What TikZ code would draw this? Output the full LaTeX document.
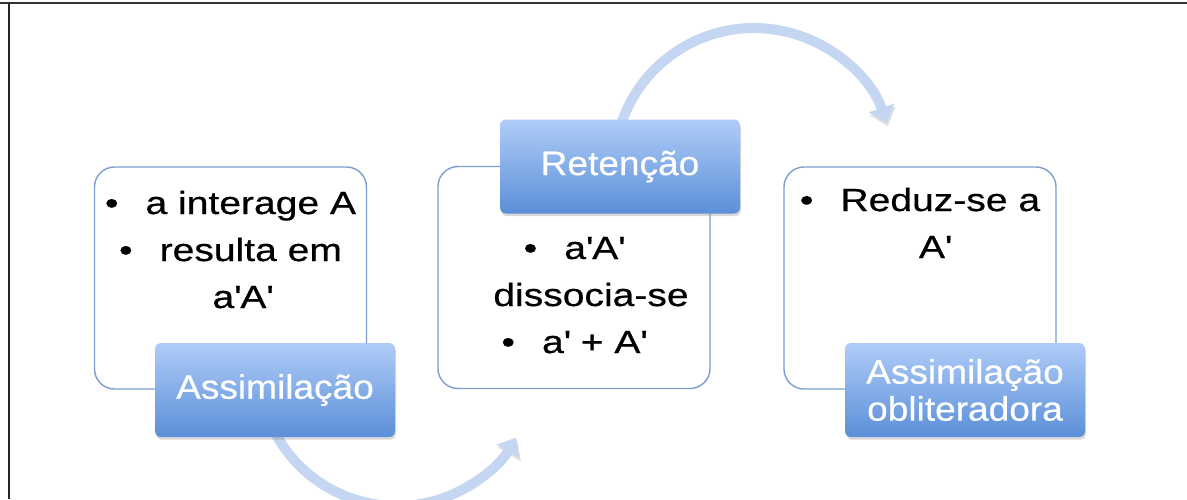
\documentclass[tikz,border=0pt]{standalone}
\usepackage{fontspec}
\setmainfont{Liberation Sans}
\newfontfamily\bodyfont[FakeStretch=1.22,FakeBold=0.6]{Liberation Sans}
\newfontfamily\tagfont[FakeStretch=1.09,FakeBold=0.4]{Liberation Sans}
\usetikzlibrary{arrows.meta,shadows}
\definecolor{cardedge}{HTML}{7B9ED0}
\definecolor{tagtop}{HTML}{AFCCF8}
\definecolor{tagbottom}{HTML}{5B8FD8}
\definecolor{arcblue}{HTML}{C4D6F1}
\newcommand{\ap}{\textquotesingle}
\newcommand{\bul}{\textbullet\hspace{13.5pt}}

\begin{document}
\begin{tikzpicture}[x=0.5pt,y=-0.5pt,
  card/.style={draw=cardedge, line width=0.7pt, fill=white, rounded corners=10pt,
    minimum width=136pt, minimum height=111pt, inner sep=0pt},
  tag/.style={rounded corners=3pt, top color=tagtop, bottom color=tagbottom,
    text=white, font=\tagfont\fontsize{17}{18.5}\selectfont, align=center,
    minimum width=120pt, minimum height=47pt, inner sep=0pt,
    drop shadow={shadow xshift=0.5pt, shadow yshift=-1.3pt, opacity=0.3}},
  bullets/.style={font=\bodyfont\fontsize{16}{23.5}\selectfont, align=center,
    anchor=base, inner sep=0pt},
  flow/.style={draw=arcblue, line width=5pt, -{Triangle[width=13pt,length=8pt]},
    preaction={draw=black!12, transform canvas={shift={(0.6pt,-1.5pt)}}}}
]
\useasboundingbox (0,0) rectangle (1187,499);

% frame lines
\draw[black!80, line width=1.3pt] (0,3) -- (1187,3);
\draw[black!85, line width=1pt] (9,3) -- (9,499);

% content cards
\node[card] (cardA) at (230.5,278) {};
\node[card] (cardR) at (574,277.5) {};
\node[card] (cardO) at (920,278) {};

% curved arrows between the stages
\coordinate (b1) at (267.3,415.2);
\coordinate (t1) at (618.8,131.8);
\draw[flow] (b1) arc[start angle=160, end angle=30.3, radius=138];
\draw[flow] (t1) arc[start angle=-165, end angle=-18.7, radius=140];

% card texts (base anchor sits on the last line)
\node[bullets] (txtA) at (230.5,308)
  {\bul a interage A\\ \bul resulta em\\ \hspace*{12pt}a\ap A\ap};
\node[bullets] (txtR) at (574,353)
  {\bul a\ap A\ap\\ \hspace*{17pt}dissocia-se\\ \bul a\ap{} + A\ap};
\node[bullets] (txtO) at (920,258)
  {\bul Reduz-se a\\ \hspace*{15pt}A\ap};

% stage labels
\node[tag] (tagA) at (275,390) {Assimilação};
\node[tag] (tagR) at (620,166.5) {Retenção};
\node[tag] (tagO) at (965,390) {Assimilação\\obliteradora};
\end{tikzpicture}
\end{document}
